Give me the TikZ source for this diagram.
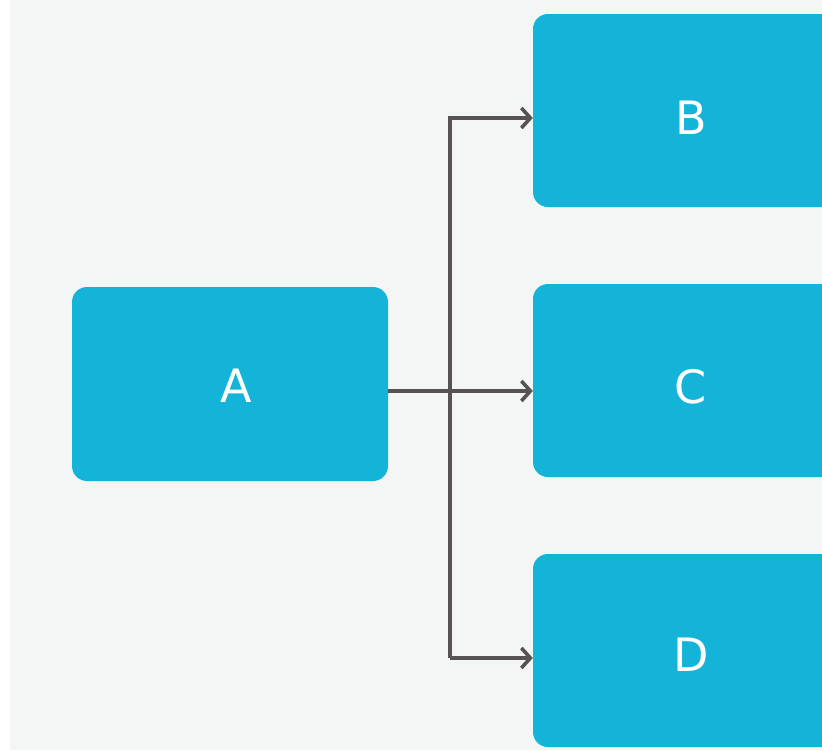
\documentclass[tikz,border=0pt]{standalone}
\usepackage{fontspec}
\setmainfont{DejaVu Sans}
\usetikzlibrary{arrows.meta}
\definecolor{bgc}{HTML}{F4F6F6}
\definecolor{boxc}{HTML}{14B4D8}
\definecolor{arrc}{HTML}{585353}
\begin{document}
\begin{tikzpicture}[x=1pt,y=-1pt,
  box/.style={fill=boxc, rounded corners=15pt, inner sep=0pt},
  lbl/.style={text=white, font=\fontsize{46}{55}\selectfont, inner sep=0pt},
  conn/.style={draw=arrc, line width=3.6pt},
  arr/.style={conn, -{Straight Barb[length=9pt,width=20pt,line width=3.6pt]}}]
\useasboundingbox (0,0) rectangle (822,750);
\clip (0,0) rectangle (822,750);
\fill[white] (0,0) rectangle (822,750);
\fill[bgc] (10,0) rectangle (822,750);
\node[box, minimum width=316pt, minimum height=194pt] (A) at (230,384) {};
\node[box, minimum width=312pt, minimum height=193pt] (B) at (689,110.5) {};
\node[box, minimum width=312pt, minimum height=193pt] (C) at (689,380.5) {};
\node[box, minimum width=312pt, minimum height=193pt] (D) at (689,650.5) {};
\node[lbl] (tA) at (236.5,386) {A};
\node[lbl] (tB) at (691,118) {B};
\node[lbl] (tC) at (691,387) {C};
\node[lbl] (tD) at (691,655) {D};
\coordinate (j) at (450,391);
\coordinate (jB) at (450,118);
\coordinate (jD) at (450,658);
\draw[arr] (A.east |- j) -- (C.west |- j);
\draw[arr] (jD) -- (jB) -- (B.west |- jB);
\draw[arr] (jD) -- (D.west |- jD);
\end{tikzpicture}
\end{document}
